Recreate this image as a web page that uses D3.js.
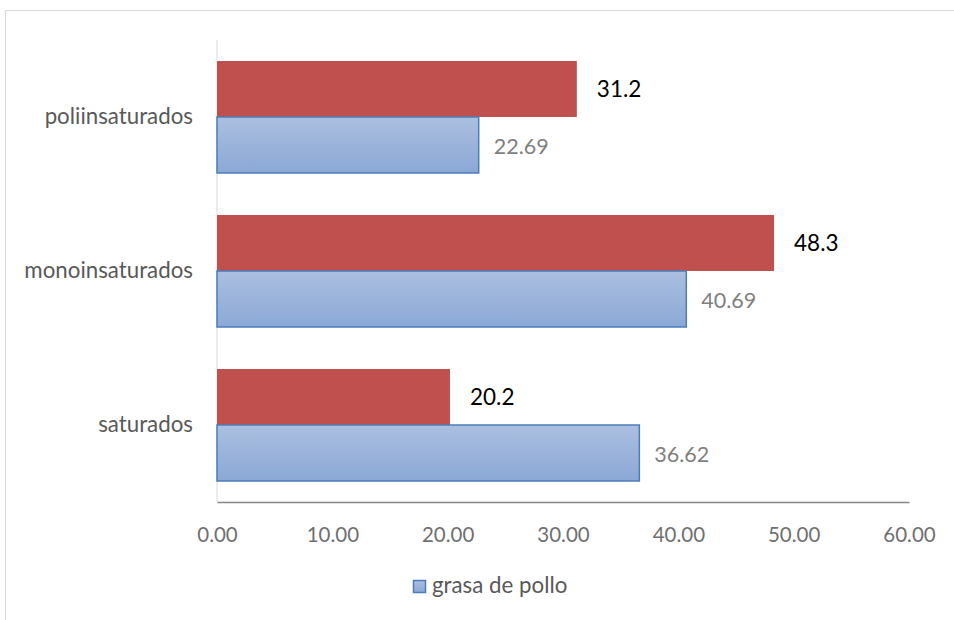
<!DOCTYPE html>
<html>
<head>
<meta charset="utf-8">
<script src="https://cdn.jsdelivr.net/npm/d3@7"></script>
<style>
  html, body { margin: 0; padding: 0; background: #fff; }
  svg { display: block; font-family: Lato, "Open Sans", sans-serif; }
</style>
</head>
<body>
<svg id="chart" width="954" height="620"></svg>
<script>
// Fatty-acid composition (%), categories listed top to bottom
const categories = ["poliinsaturados", "monoinsaturados", "saturados"];
const polloValues = [22.69, 40.69, 36.62];      // grasa de pollo
const otherValues = [31.2, 48.3, 20.2];         // second series (red)
const tickValues = [0, 10, 20, 30, 40, 50, 60];
const legendLabel = "grasa de pollo";

const svg = d3.select("#chart");

// chart frame
svg.append("rect")
  .attr("x", 5.5).attr("y", 10.5)
  .attr("width", 1000).attr("height", 700)
  .attr("fill", "none").attr("stroke", "#d9d9d9");

const defs = svg.append("defs");
const grad = defs.append("linearGradient")
  .attr("id", "blueGrad").attr("x1", 0).attr("y1", 0).attr("x2", 0).attr("y2", 1);
grad.append("stop").attr("offset", "0%").attr("stop-color", "#abbfe0");
grad.append("stop").attr("offset", "100%").attr("stop-color", "#8ba8d6");

const x = d3.scaleLinear().domain([0, 60]).range([217, 909]);
const y = d3.scaleBand().domain(categories).range([40, 502])
  .paddingInner(0.2727).paddingOuter(0.13636);
const sub = d3.scaleBand().domain(["other", "pollo"]).range([0, y.bandwidth()]);

const rows = categories.map((c, i) => ({ cat: c, pollo: polloValues[i], other: otherValues[i] }));

// left axis line
svg.append("line")
  .attr("x1", x(0)).attr("x2", x(0))
  .attr("y1", 40).attr("y2", 502)
  .attr("stroke", "#d9d9d9").attr("stroke-width", 1);

// red bars
svg.append("g").selectAll("rect").data(rows).join("rect")
  .attr("x", x(0))
  .attr("y", d => y(d.cat) + sub("other"))
  .attr("width", d => x(d.other) - x(0))
  .attr("height", sub.bandwidth())
  .attr("fill", "#c0504d");

// blue bars
svg.append("g").selectAll("rect").data(rows).join("rect")
  .attr("x", x(0))
  .attr("y", d => y(d.cat) + sub("pollo"))
  .attr("width", d => x(d.pollo) - x(0))
  .attr("height", sub.bandwidth())
  .attr("fill", "url(#blueGrad)")
  .attr("stroke", "#4a7ebb").attr("stroke-width", 1.5);

// bottom axis
const xAxis = d3.axisBottom(x).tickValues(tickValues).tickFormat(d3.format(".2f")).tickSize(0).tickPadding(0);
const gx = svg.append("g").attr("transform", "translate(0,502)").call(xAxis);
gx.select(".domain").attr("stroke", "#868686").attr("stroke-width", 1.5);
gx.selectAll("text")
  .attr("y", 40).attr("dy", null)
  .attr("fill", "#707070").style("font-size", "20.5px").style("font-family", "Lato, sans-serif");

// category labels
const yAxis = d3.axisLeft(y).tickSize(0).tickPadding(24);
const gy = svg.append("g").attr("transform", `translate(${x(0)},0)`).call(yAxis);
gy.select(".domain").remove();
gy.selectAll("text")
  .attr("fill", "#595959").style("font-size", "22.3px").style("font-family", "Lato, sans-serif");

// value labels
svg.append("g").selectAll("text").data(rows).join("text")
  .attr("x", d => x(d.other) + 20)
  .attr("y", d => y(d.cat) + sub("other") + sub.bandwidth() / 2)
  .attr("dy", "0.36em")
  .attr("fill", "#000")
  .style("font-size", "22.5px")
  .text(d => d3.format(".1f")(d.other));

svg.append("g").selectAll("text").data(rows).join("text")
  .attr("x", d => x(d.pollo) + 15)
  .attr("y", d => y(d.cat) + sub("pollo") + sub.bandwidth() / 2 + 1)
  .attr("dy", "0.36em")
  .attr("fill", "#7f7f7f")
  .style("font-size", "21.5px")
  .text(d => d3.format(".2f")(d.pollo));

// legend
const lg = svg.append("g");
lg.append("rect")
  .attr("x", 413.5).attr("y", 580.5).attr("width", 12).attr("height", 12)
  .attr("fill", "url(#blueGrad)").attr("stroke", "#4a7ebb").attr("stroke-width", 1.5);
lg.append("text")
  .attr("x", 432).attr("y", 593)
  .attr("fill", "#595959").style("font-size", "22.3px")
  .text(legendLabel);
</script>
</body>
</html>
